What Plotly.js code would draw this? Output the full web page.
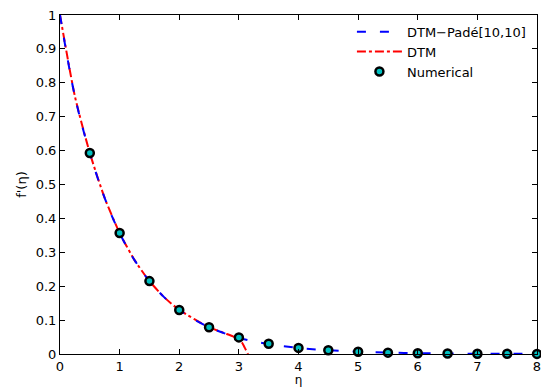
<!DOCTYPE html>
<html>
<head>
<meta charset="utf-8">
<script src="https://cdn.plot.ly/plotly-3.0.1.min.js"></script>
<style>html,body{margin:0;padding:0;background:#fff;}#chart{width:541px;height:387px;}</style>
</head>
<body>
<div id="chart"></div>
<script>
// DTM–Padé[10,10] curve
const padeEta = [0, 0.25, 0.5, 0.75, 1, 1.25, 1.5, 1.75, 2, 2.5, 3, 3.5, 4, 4.5, 5, 5.5, 6, 6.5, 7, 7.5, 8];
const padeF   = [1, 0.76, 0.593, 0.46, 0.357, 0.277, 0.215, 0.167, 0.13, 0.079, 0.048, 0.029, 0.018, 0.011, 0.0066, 0.004, 0.0024, 0.0015, 0.0009, 0.0005, 0.0003];
// DTM series (diverges after eta ~ 3)
const dtmEta = [0, 0.25, 0.5, 0.75, 1, 1.25, 1.5, 1.75, 2, 2.5, 2.75, 2.9, 3.0, 3.05, 3.1, 3.15, 3.2];
const dtmF   = [1, 0.76, 0.593, 0.46, 0.357, 0.277, 0.215, 0.167, 0.13, 0.079, 0.062, 0.052, 0.043, 0.034, 0.018, 0.0, -0.03];
// Numerical solution
const numEta = [0.5, 1, 1.5, 2, 2.5, 3, 3.5, 4, 4.5, 5, 5.5, 6, 6.5, 7, 7.5, 8];
const numF   = [0.593, 0.357, 0.215, 0.13, 0.079, 0.049, 0.03, 0.018, 0.011, 0.0066, 0.004, 0.0024, 0.0015, 0.0009, 0.0005, 0.0003];
const xTicks = [0, 1, 2, 3, 4, 5, 6, 7, 8];
const yTicks = [0, 0.1, 0.2, 0.3, 0.4, 0.5, 0.6, 0.7, 0.8, 0.9, 1];
const yTickText = ['0', '0.1', '0.2', '0.3', '0.4', '0.5', '0.6', '0.7', '0.8', '0.9', '1'];

const FONT = 'DejaVu Sans, Liberation Sans, Arial, sans-serif';

const traces = [
  {x: dtmEta, y: dtmF, mode: 'lines', name: 'DTM', legendrank: 2,
   line: {color: '#ff0000', dash: 'dashdot', width: 2, shape: 'spline', smoothing: 0.6}},
  {x: padeEta, y: padeF, mode: 'lines', name: 'DTM\u2212Padé[10,10]', legendrank: 1,
   line: {color: '#0000ff', dash: '9px,14px', width: 2, shape: 'spline'}},
  {x: numEta, y: numF, mode: 'markers', name: 'Numerical', cliponaxis: false, legendrank: 3,
   marker: {symbol: 'circle', size: 8, color: '#00c0c0', line: {color: '#000', width: 2.5}}}
];

const layout = {
  width: 541, height: 387,
  margin: {l: 60, r: 4, t: 15, b: 33},
  paper_bgcolor: '#fff', plot_bgcolor: '#fff',
  font: {family: FONT, size: 13, color: '#000'},
  showlegend: true,
  legend: {x: 0.612, y: 0.995, xanchor: 'left', yanchor: 'top', bgcolor: 'rgba(255,255,255,0)',
           borderwidth: 0, font: {family: FONT, size: 13}, tracegroupgap: 0, itemwidth: 45,
           traceorder: 'normal'},
  xaxis: {range: [0, 8], tickvals: xTicks, ticktext: xTicks.map(String), ticks: 'inside', ticklen: 5,
          tickcolor: '#000', showline: true, linecolor: '#000', linewidth: 1, mirror: 'ticks',
          showgrid: false, zeroline: false, tickfont: {size: 13}, ticklabeloverflow: 'allow',
          title: {text: 'η', font: {size: 12}, standoff: 3}},
  yaxis: {range: [0, 1], tickvals: yTicks, ticktext: yTickText, ticks: 'inside', ticklen: 5,
          tickcolor: '#000', showline: true, linecolor: '#000', linewidth: 1, mirror: 'ticks',
          showgrid: false, zeroline: false, tickfont: {size: 13}, ticklabeloverflow: 'allow',
          title: {text: "f'(η)", font: {size: 13}, standoff: 6}}
};

Plotly.newPlot('chart', traces, layout, {displayModeBar: false, staticPlot: true});
</script>
</body>
</html>
